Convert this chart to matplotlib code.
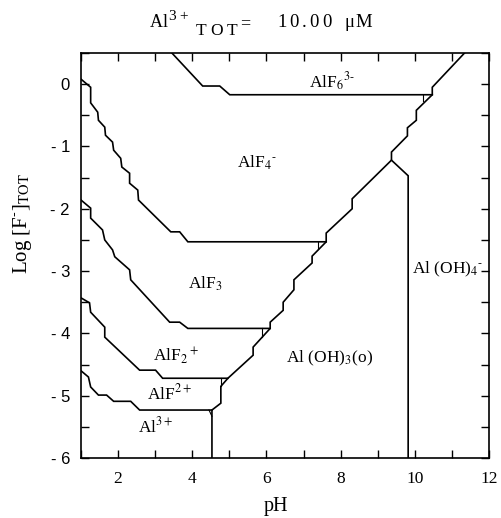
import numpy as np
import matplotlib
matplotlib.use("Agg")
import matplotlib.pyplot as plt
from matplotlib.ticker import MultipleLocator, FixedLocator

plt.rcParams["font.family"] = ["Liberation Serif", "DejaVu Serif"]
plt.rcParams["mathtext.fontset"] = "stix"

# -------- predominance boundaries (pH, log[F-]tot) --------
# AlF6(3-) / AlF4(-)
alf6_ph = [3.45, 4.28, 4.74, 5.01, 10.47]
alf6_lf = [0.50, -0.03, -0.03, -0.17, -0.17]

# AlF4(-) / AlF3
alf4_ph = [1.00, 1.26, 1.26, 1.45, 1.47, 1.64, 1.66, 1.85, 1.88, 2.07, 2.10,
           2.31, 2.31, 2.53, 2.55, 3.42, 3.66, 3.88, 7.61]
alf4_lf = [0.08, -0.05, -0.30, -0.45, -0.58, -0.69, -0.82, -0.93, -1.06, -1.19,
           -1.33, -1.43, -1.59, -1.70, -1.86, -2.37, -2.37, -2.53, -2.53]

# AlF3 / AlF2(+)
alf3_ph = [1.00, 1.26, 1.26, 1.58, 1.64, 1.85, 1.91, 2.31, 2.34, 3.39, 3.66, 3.88, 6.10]
alf3_lf = [-1.86, -1.99, -2.15, -2.34, -2.50, -2.66, -2.77, -2.98, -3.14, -3.82,
           -3.82, -3.92, -3.92]

# AlF2(+) / AlF(2+)
alf2_ph = [1.00, 1.23, 1.26, 1.64, 1.64, 2.58, 3.01, 3.20, 4.96]
alf2_lf = [-3.43, -3.51, -3.66, -3.90, -4.06, -4.59, -4.59, -4.72, -4.72]

# AlF(2+) / Al(3+)
alf1_ph = [1.00, 1.20, 1.26, 1.47, 1.69, 1.88, 2.34, 2.58, 4.53]
alf1_lf = [-4.60, -4.70, -4.86, -4.99, -4.99, -5.09, -5.09, -5.23, -5.23]

# dissolved species / Al(OH)3(s)
sol_ph = [4.53, 4.53, 4.77, 4.77, 4.96, 5.64, 5.64, 6.10, 6.10, 6.45, 6.45, 6.74,
          6.74, 7.23, 7.23, 7.61, 7.61, 8.31, 8.31, 9.37, 9.37, 9.80, 9.80, 10.04,
          10.04, 10.47, 10.47, 11.34]
sol_lf = [-6.00, -5.23, -5.12, -4.85, -4.72, -4.35, -4.22, -3.92, -3.82, -3.63,
          -3.50, -3.30, -3.14, -2.87, -2.76, -2.53, -2.39, -2.00, -1.84, -1.22,
          -1.09, -0.83, -0.70, -0.58, -0.42, -0.17, -0.05, 0.50]

# Al(OH)3(s) / Al(OH)4(-)
aloh4_ph = [9.37, 9.82, 9.82]
aloh4_lf = [-1.22, -1.47, -6.00]

# little corner ticks at the triple points
corner_ph = [(10.23, 10.23), (7.39, 7.39), (5.88, 5.88), (4.77, 4.77), (4.45, 4.53)]
corner_lf = [(-0.17, -0.27), (-2.53, -2.65), (-3.92, -4.06), (-4.72, -4.85), (-5.23, -5.33)]

labels = [r"AlF$_6$$^{3\text{-}}$", r"AlF$_4$$^{\text{-}}$", r"AlF$_3$", r"AlF$_2$$^+$",
          r"AlF$^{2+}$", r"Al$^{3+}$", r"Al (OH)$_3$(o)", r"Al (OH)$_4$$^{\text{-}}$"]
label_ph = [7.77, 5.75, 4.34, 3.55, 3.39, 3.01, 7.71, 10.88]
label_lf = [0.03, -1.27, -3.21, -4.35, -4.96, -5.50, -4.40, -2.98]

xticks = [2, 4, 6, 8, 10, 12]
yticks = [0, -1, -2, -3, -4, -5, -6]

W, H = 501, 518
fig = plt.figure(figsize=(W / 100, H / 100), dpi=100)
ax = fig.add_axes([0.1617, 0.1158, 0.8144, 0.7819])

lw = 1.2
for px, ly in [(alf6_ph, alf6_lf), (alf4_ph, alf4_lf), (alf3_ph, alf3_lf),
               (alf2_ph, alf2_lf), (alf1_ph, alf1_lf), (sol_ph, sol_lf),
               (aloh4_ph, aloh4_lf)]:
    ax.plot(px, ly, color="black", lw=lw, solid_joinstyle="miter")
for px, ly in zip(corner_ph, corner_lf):
    ax.plot(px, ly, color="black", lw=0.8)

for t, x, y in zip(labels, label_ph, label_lf):
    ax.text(x, y, t, fontsize=12.5, ha="center", va="center")

ax.set_xlim(1, 12)
ax.set_ylim(-6, 0.5)
ax.xaxis.set_major_locator(FixedLocator(xticks))
ax.xaxis.set_minor_locator(MultipleLocator(1))
ax.yaxis.set_major_locator(FixedLocator(yticks))
ax.yaxis.set_minor_locator(MultipleLocator(0.5))
ax.set_xticklabels([str(v) for v in xticks], fontsize=12.5)
ax.set_yticklabels(["0" if v == 0 else "- %d" % abs(v) for v in yticks],
                   fontsize=12, family="Liberation Sans")
ax.tick_params(which="both", direction="in", top=True, right=True, length=5.5, width=1)
ax.tick_params(axis="x", pad=9)
ax.tick_params(axis="y", pad=8)
for s in ax.spines.values():
    s.set_linewidth(1.2)

# title is letter-spaced in the original, so lay it out piece by piece (pixels)
renderer = fig.canvas.get_renderer()


def spaced(x, y, s, size, gap):
    for ch in s:
        t = fig.text(x / W, 1 - y / H, ch, fontsize=size, ha="left", va="baseline")
        x += t.get_window_extent(renderer).width + gap
    return x


spaced(150, 27, "Al", 13, 0)
spaced(168, 20, "3+", 11, 4)
spaced(196, 35, "TOT", 12.5, 3.5)
spaced(240, 28, "=", 13, 0)
spaced(277, 27, "10.00", 13.5, 3)
spaced(345, 27, "μM", 13.5, 0)

fig.text(0.044, 1 - 224 / H, r"Log [F$^{\text{-}}$]$_{\mathrm{TOT}}$", fontsize=15,
         rotation=90, ha="center", va="center")
fig.text(0.551, 0.022, "pH", fontsize=14.5, ha="center", va="center")

fig.savefig("out.png", dpi=100)
